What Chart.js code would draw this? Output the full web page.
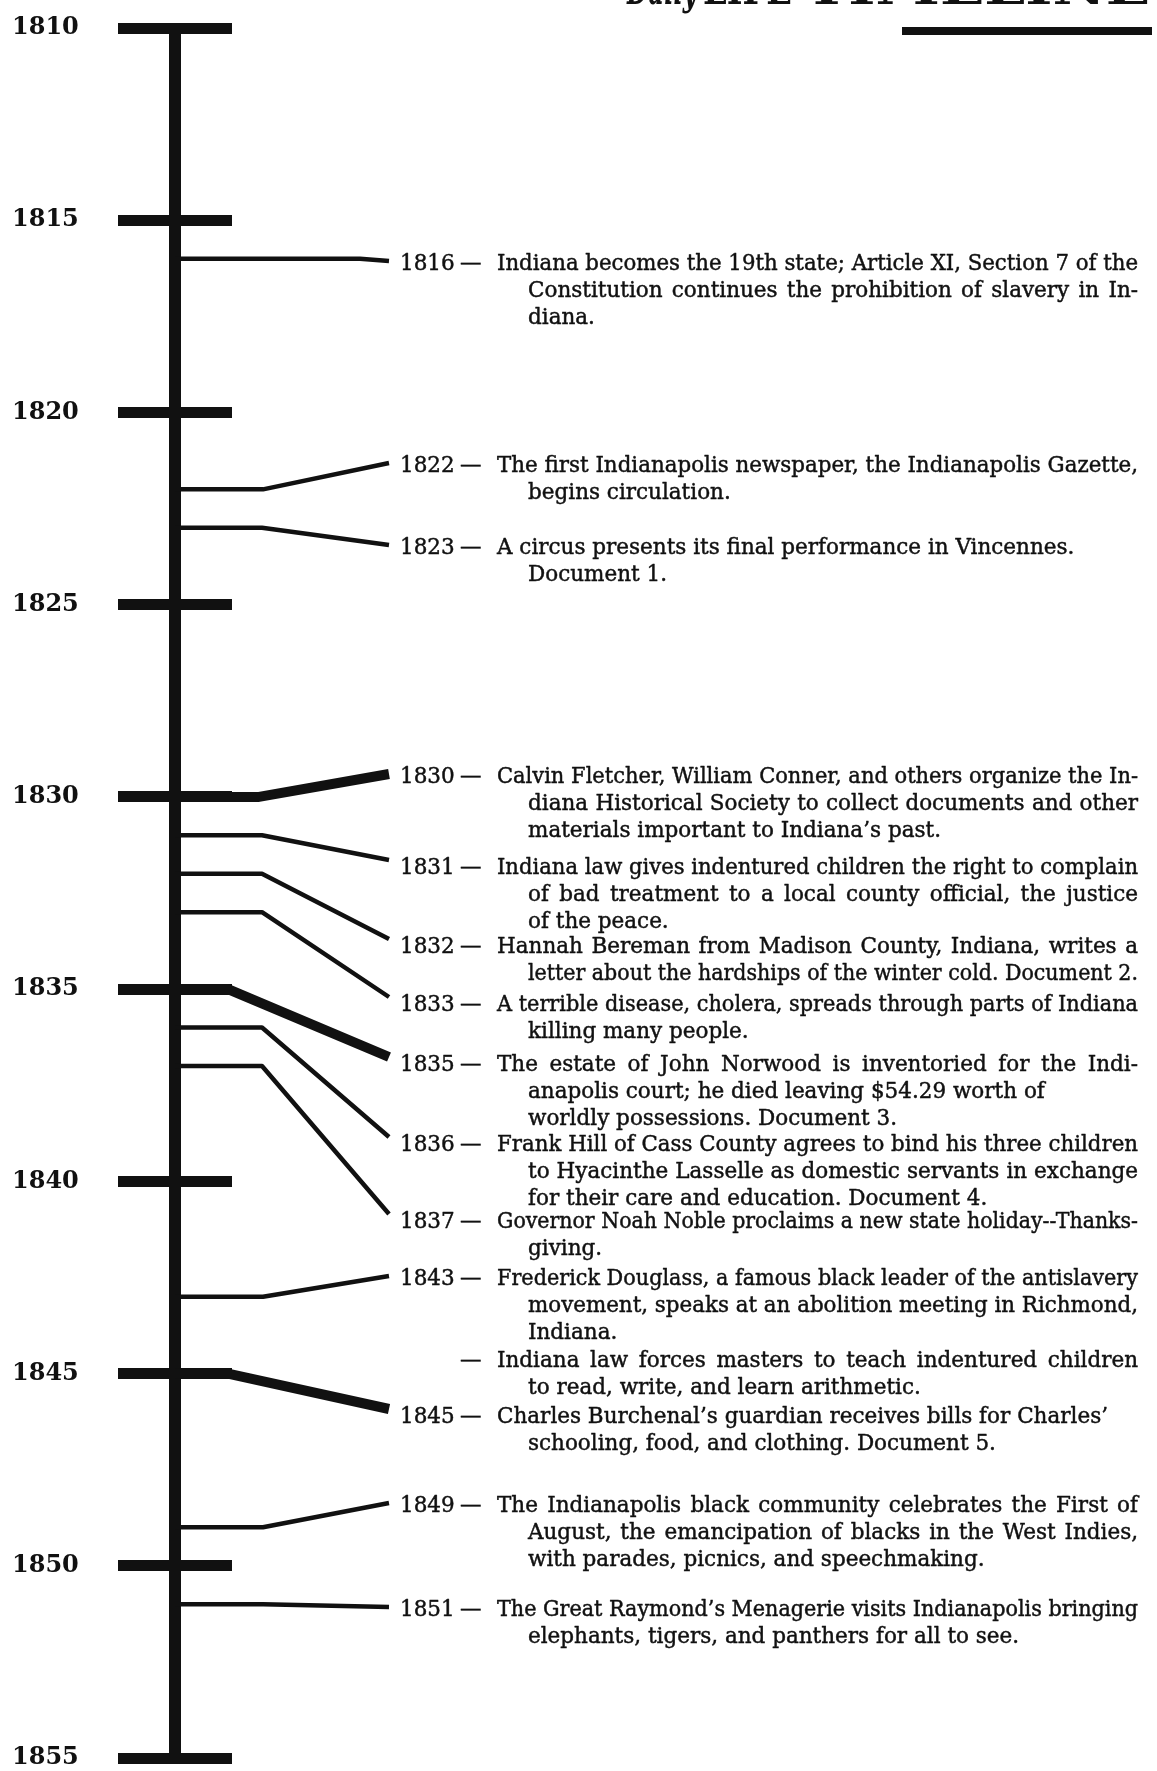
<!DOCTYPE html>
<html>
<head>
<meta charset="utf-8">
<script src="https://cdn.jsdelivr.net/npm/chart.js@4.4.1/dist/chart.umd.min.js"></script>
<style>
  html, body { margin: 0; padding: 0; background: #fff; }
  #wrap { width: 1157px; height: 1771px; }
</style>
</head>
<body>
<div id="wrap"><canvas id="timeline"></canvas></div>
<script>
// scale ticks (every 5 years)
const tickYears = [1810, 1815, 1820, 1825, 1830, 1835, 1840, 1845, 1850, 1855];

// events: year on the spine (null = no connector), printed label, text lines
const eventYears = [1816, 1822, 1823, 1830, 1831, 1832, 1833, 1835, 1836, 1837, 1843, null, 1845, 1849, 1851];
const eventLabels = ['1816', '1822', '1823', '1830', '1831', '1832', '1833', '1835', '1836', '1837', '1843', '', '1845', '1849', '1851'];
const eventText = [
  ['Indiana becomes the 19th state; Article XI, Section 7 of the',
   'Constitution continues the prohibition of slavery in In-',
   'diana.'],
  ['The first Indianapolis newspaper, the Indianapolis Gazette,',
   'begins circulation.'],
  ['A circus presents its final performance in Vincennes.',
   'Document 1.'],
  ['Calvin Fletcher, William Conner, and others organize the In-',
   'diana Historical Society to collect documents and other',
   'materials important to Indiana\u2019s past.'],
  ['Indiana law gives indentured children the right to complain',
   'of bad treatment to a local county official, the justice',
   'of the peace.'],
  ['Hannah Bereman from Madison County, Indiana, writes a',
   'letter about the hardships of the winter cold. Document 2.'],
  ['A terrible disease, cholera, spreads through parts of Indiana',
   'killing many people.'],
  ['The estate of John Norwood is inventoried for the Indi-',
   'anapolis court; he died leaving $54.29 worth of',
   'worldly possessions. Document 3.'],
  ['Frank Hill of Cass County agrees to bind his three children',
   'to Hyacinthe Lasselle as domestic servants in exchange',
   'for their care and education. Document 4.'],
  ['Governor Noah Noble proclaims a new state holiday--Thanks-',
   'giving.'],
  ['Frederick Douglass, a famous black leader of the antislavery',
   'movement, speaks at an abolition meeting in Richmond,',
   'Indiana.'],
  ['Indiana law forces masters to teach indentured children',
   'to read, write, and learn arithmetic.'],
  ['Charles Burchenal\u2019s guardian receives bills for Charles\u2019',
   'schooling, food, and clothing. Document 5.'],
  ['The Indianapolis black community celebrates the First of',
   'August, the emancipation of blacks in the West Indies,',
   'with parades, picnics, and speechmaking.'],
  ['The Great Raymond\u2019s Menagerie visits Indianapolis bringing',
   'elephants, tigers, and panthers for all to see.']
];

// layout of the text column (pixels)
const labelCenters = [262, 464, 546, 775, 866, 945, 1003, 1063, 1143, 1220, 1277, 1359, 1415, 1504, 1608];
const elbowX = [360, 263, 262, 259, 262, 262, 262, 228, 262, 262, 263, null, 228, 263, 263];
const raggedLines = ['2:0', '12:0'];   // lines set unjustified in the print
const END_X = 389, YEAR_X = 400, DASH_X = 460, TEXT_X = 497, INDENT_X = 528, RIGHT_X = 1138;
const LINE_H = 26.8;
const INK = '#111';
const BODY_FONT = '21.5px "DejaVu Serif"';

function ink(ctx, text, x, y) {
  ctx.fillText(text, x, y);
  ctx.strokeText(text, x, y);
}

function drawLine(ctx, text, x, y, width, justify) {
  const words = text.split(' ');
  const natural = ctx.measureText(text).width;
  if (natural > width) {
    ctx.save();
    ctx.translate(x, y);
    ctx.scale(width / natural, 1);
    ink(ctx, text, 0, 0);
    ctx.restore();
    return;
  }
  if (!justify || words.length < 2 || natural < width * 0.9) {
    ink(ctx, text, x, y);
    return;
  }
  const wsum = words.reduce((s, w) => s + ctx.measureText(w).width, 0);
  const gap = (width - wsum) / (words.length - 1);
  let cx = x;
  words.forEach(w => {
    ink(ctx, w, cx, y);
    cx += ctx.measureText(w).width + gap;
  });
}

function fitText(ctx, text, x0, x1, y) {
  const w = ctx.measureText(text).width;
  ctx.save();
  ctx.translate(x0, y);
  ctx.scale((x1 - x0) / w, 1);
  ctx.fillText(text, 0, 0);
  ctx.restore();
}

const timelinePlugin = {
  id: 'timeline',
  afterDatasetsDraw(chart) {
    const ctx = chart.ctx;
    const xs = chart.scales.x, ys = chart.scales.y;
    const spineX = xs.getPixelForValue(0);
    ctx.save();

    // connectors from the spine to each entry
    ctx.strokeStyle = INK;
    ctx.lineJoin = 'round';
    ctx.lineCap = 'butt';
    eventYears.forEach((yr, i) => {
      if (yr === null) return;
      const y0 = ys.getPixelForValue(yr);
      const y1 = labelCenters[i] - (labelCenters[i] > y0 + 20 ? 6 : 1);
      ctx.lineWidth = yr % 5 === 0 ? 10 : 4.5;
      ctx.beginPath();
      ctx.moveTo(spineX, y0);
      ctx.lineTo(elbowX[i], y0);
      ctx.lineTo(END_X, y1);
      ctx.stroke();
    });

    // entry texts
    ctx.fillStyle = INK;
    ctx.strokeStyle = INK;
    ctx.lineWidth = 0.45;
    ctx.font = BODY_FONT;
    ctx.textAlign = 'left';
    ctx.textBaseline = 'alphabetic';
    eventText.forEach((lines, i) => {
      const cy = labelCenters[i] + 8;
      if (eventLabels[i]) ink(ctx, eventLabels[i], YEAR_X, cy);
      ink(ctx, '\u2014', DASH_X, cy);
      lines.forEach((ln, j) => {
        const x = j === 0 ? TEXT_X : INDENT_X;
        const justify = j < lines.length - 1 && !raggedLines.includes(i + ':' + j);
        drawLine(ctx, ln, x, cy + j * LINE_H, RIGHT_X - x, justify);
      });
    });

    // cut-off page heading and rule
    ctx.font = 'italic bold 44px "DejaVu Serif"';
    fitText(ctx, 'Daily', 627, 697, 4);
    ctx.font = 'bold 44px "DejaVu Serif"';
    fitText(ctx, 'LIFE', 703, 792, 4);
    fitText(ctx, 'TIMELINE', 805, 1150, 4);
    ctx.fillRect(902, 27, 250, 8);

    ctx.restore();
  }
};

new Chart(document.getElementById('timeline'), {
  type: 'scatter',
  data: {
    datasets: [{
      label: 'spine',
      data: [{ x: 0, y: tickYears[0] }, { x: 0, y: tickYears[tickYears.length - 1] }],
      showLine: true,
      borderColor: INK,
      borderWidth: 12,
      pointRadius: 0,
      clip: false
    }]
  },
  options: {
    responsive: true,
    maintainAspectRatio: false,
    animation: false,
    events: [],
    layout: { padding: { left: 12, top: 28, right: 925, bottom: 13 } },
    plugins: { legend: { display: false }, tooltip: { enabled: false } },
    scales: {
      x: { type: 'linear', min: -1, max: 1, display: false },
      y: {
        type: 'linear',
        reverse: true,
        min: tickYears[0],
        max: tickYears[tickYears.length - 1],
        afterBuildTicks(scale) { scale.ticks = tickYears.map(v => ({ value: v })); },
        afterFit(scale) { scale.width = 106; },
        border: { display: false },
        grid: { color: INK, lineWidth: 11, drawTicks: false },
        ticks: {
          crossAlign: 'far',
          padding: 0,
          color: INK,
          font: { family: 'DejaVu Serif', size: 24, weight: 'bold', lineHeight: 1 },
          callback: v => String(v)
        }
      }
    }
  },
  plugins: [timelinePlugin]
});
</script>
</body>
</html>
